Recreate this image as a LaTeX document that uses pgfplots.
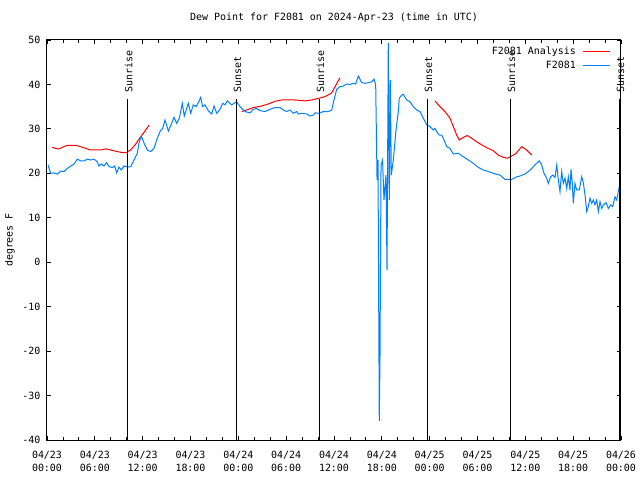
\documentclass[border=0pt]{standalone}
\usepackage{pgfplots}
\pgfplotsset{compat=1.18}
\usepackage{fontspec}
\setmainfont{DejaVu Sans Mono}
\definecolor{dpblue}{RGB}{0,128,255}
\definecolor{dpred}{RGB}{255,0,0}
\begin{document}
\fontsize{10}{13}\selectfont
\begin{tikzpicture}
\begin{axis}[
  scale only axis, width=574bp, height=400bp,
  xmin=0, xmax=72, ymin=-40, ymax=50,
  xtick={0,6,...,72}, minor x tick num=2,
  xticklabels={{04/23\\00:00},{04/23\\06:00},{04/23\\12:00},{04/23\\18:00},{04/24\\00:00},{04/24\\06:00},{04/24\\12:00},{04/24\\18:00},{04/25\\00:00},{04/25\\06:00},{04/25\\12:00},{04/25\\18:00},{04/26\\00:00}},
  ytick={-40,-30,...,50},
  tick align=inside, major tick length=4bp, minor tick length=3bp,
  tick style={black, line width=0.8bp},
  axis line style={line width=1bp},
  /pgf/number format/assume math mode=true,
  ticklabel style={font=\fontsize{10}{13}\selectfont},
  xticklabel style={align=center, yshift=-8bp},
  yticklabel style={xshift=-3bp},
  title={Dew Point for F2081 on 2024-Apr-23 (time in UTC)},
  title style={at={(axis description cs:0.5,1)}, anchor=south, yshift=8bp},
  ylabel={degrees F},
  ylabel style={at={(axis description cs:-0.0645,0.5)}, anchor=center, rotate=0},
  clip=false,
  unbounded coords=jump,
  legend style={at={(axis description cs:1,1)}, anchor=north east, xshift=-7bp, yshift=-3bp, draw=none, fill=none, font=\fontsize{10}{13}\selectfont, row sep=1bp},
  legend cell align=right,
  legend plot pos=right,
  legend image code/.code={\path (0bp,0bp); \draw[#1] (5bp,0bp) -- (32bp,0bp);},
]
\addplot[dpred, line width=1bp] coordinates {
(0.66,25.85) (1.09,25.6) (1.51,25.5) (1.92,25.85) (2.55,26.3) (3.60,26.3) (4.23,26.0) (4.85,25.6) (5.48,25.25) (6.74,25.25) (7.36,25.5) (7.99,25.25) (8.82,24.9) (9.45,24.65) (10.00,24.7) (10.57,25.4) (11.13,26.6) (11.75,28.25) (12.29,29.5) (12.79,30.8)
(18,nan)
(24.42,33.9) (25.05,34.25) (25.88,34.8) (26.93,35.15) (27.76,35.6) (28.60,36.2) (29.44,36.5) (31.11,36.5) (32.36,36.3) (33.20,36.5) (34.12,36.9) (34.87,37.25) (35.71,38.1) (36.25,39.9) (36.75,41.5)
(42,nan)
(48.67,36.3) (49.30,35.0) (49.92,33.9) (50.55,32.4) (50.97,30.5) (51.39,28.6) (51.72,27.5) (52.22,28.1) (52.72,28.5) (53.27,27.9) (53.90,27.1) (54.53,26.4) (55.36,25.6) (55.98,25.1) (56.61,24.1) (57.24,23.6) (57.74,23.4) (58.29,23.9) (58.83,24.5) (59.55,26.0) (60.17,25.25) (60.80,24.1)
};
\addlegendentry{F2081 Analysis}
\addplot[dpblue, line width=1bp] coordinates {
(0.13,21.9) (0.46,20.0) (0.88,20.1) (1.29,19.85) (1.72,20.5) (2.13,20.4) (2.55,21.1) (2.97,21.65) (3.39,22.1) (3.80,23.2) (4.23,22.8) (4.64,22.8) (5.06,23.2) (5.48,23.0) (5.90,23.2) (6.31,22.6) (6.52,21.65) (6.81,22.1) (7.15,21.65) (7.49,22.4) (7.78,21.5) (8.19,21.3) (8.49,21.65) (8.74,20.1) (9.03,21.4) (9.32,20.75) (9.66,21.65) (10.07,21.4) (10.50,21.5) (10.91,23.0) (11.33,24.5) (11.54,26.8) (11.83,28.4) (12.17,26.8) (12.58,25.25) (13.01,24.9) (13.42,25.6) (13.76,27.5) (14.17,29.4) (14.51,30.1) (14.80,32.0) (15.22,29.5) (15.64,31.25) (15.93,32.6) (16.27,31.25) (16.60,32.4) (16.97,35.75) (17.22,32.9) (17.52,34.6) (17.72,35.75) (18.03,33.5) (18.35,35.4) (18.69,35.0) (18.98,35.9) (19.28,37.1) (19.53,35.0) (19.82,35.4) (20.23,34.1) (20.66,33.35) (20.95,35.15) (21.29,33.5) (21.70,34.4) (22.04,35.75) (22.33,35.4) (22.62,36.3) (23.17,35.4) (23.46,35.75) (23.80,36.1) (24.21,35.0) (24.84,33.9) (25.46,33.6) (25.88,34.4) (26.30,34.6) (26.72,34.1) (27.35,33.9) (27.97,34.4) (28.60,34.8) (29.23,34.8) (29.64,34.25) (30.07,33.9) (30.48,34.25) (30.90,33.5) (31.32,33.9) (31.52,33.35) (31.95,33.5) (32.58,33.35) (32.99,32.9) (33.40,33.1) (33.62,33.6) (34.12,33.5) (34.66,33.9) (35.29,33.9) (35.71,34.25) (36.00,36.5) (36.34,38.9) (36.75,39.5) (37.17,39.65) (37.59,40.1) (38.01,40.0) (38.42,40.25) (38.72,40.1) (39.05,41.9) (39.48,40.4) (39.89,40.25) (40.31,40.4) (40.73,40.6) (41.02,41.2) (41.23,39.9) (41.40,18.5) (41.52,23.0) (41.68,-35.7) (41.77,-21.3) (41.90,21.9) (42.09,23.0) (42.27,14.0) (42.52,19.6) (42.65,-1.75) (42.81,49.3) (42.94,14.0) (43.06,41.0) (43.19,19.6) (43.44,23.0) (43.78,29.75) (44.07,33.9) (44.19,36.9) (44.49,37.6) (44.69,37.8) (45.12,36.5) (45.53,36.1) (45.95,35.0) (46.38,34.25) (46.79,33.9) (47.20,32.4) (47.63,30.9) (48.04,30.5) (48.46,29.75) (48.67,30.1) (48.88,29.4) (49.21,28.6) (49.51,28.6) (49.80,27.5) (50.14,26.0) (50.55,25.6) (50.97,24.35) (51.59,24.5) (52.22,23.75) (52.85,23.0) (53.47,22.25) (54.10,21.35) (54.73,20.75) (55.36,20.4) (55.98,20.0) (56.82,19.6) (57.45,18.65) (58.29,18.65) (58.92,19.2) (59.33,19.4) (59.96,19.85) (60.38,20.4) (60.80,21.1) (61.21,21.9) (61.75,22.8) (62.05,21.9) (62.34,20.0) (62.68,18.9) (62.88,17.75) (63.18,19.2) (63.43,19.6) (63.72,19.1) (63.94,21.9) (64.14,18.5) (64.35,15.9) (64.56,20.4) (64.76,17.75) (64.98,18.9) (65.19,16.6) (65.39,19.2) (65.60,16.25) (65.73,20.9) (65.89,17.75) (66.02,13.25) (66.23,17.75) (66.44,16.25) (66.77,16.25) (67.07,19.2) (67.27,17.9) (67.49,15.1) (67.70,11.4) (67.90,12.5) (68.11,14.4) (68.33,13.25) (68.53,14.0) (68.74,12.9) (68.95,14.0) (69.16,11.4) (69.37,13.6) (69.58,12.1) (69.78,12.9) (70.12,13.4) (70.41,12.1) (70.71,12.9) (70.96,12.5) (71.25,14.75) (71.46,14.0) (71.66,15.9) (71.79,17.0)
};
\addlegendentry{F2081}
\addplot[black, line width=1bp, forget plot] coordinates {(10.04,-40) (10.04,36.7)} node[pos=1, rotate=90, anchor=west, inner sep=0pt, yshift=-1.5bp, xshift=6.5bp] {Sunrise};
\addplot[black, line width=1bp, forget plot] coordinates {(23.71,-40) (23.71,36.7)} node[pos=1, rotate=90, anchor=west, inner sep=0pt, yshift=-1.5bp, xshift=6.5bp] {Sunset};
\addplot[black, line width=1bp, forget plot] coordinates {(34.12,-40) (34.12,36.7)} node[pos=1, rotate=90, anchor=west, inner sep=0pt, yshift=-1.5bp, xshift=6.5bp] {Sunrise};
\addplot[black, line width=1bp, forget plot] coordinates {(47.67,-40) (47.67,36.7)} node[pos=1, rotate=90, anchor=west, inner sep=0pt, yshift=-1.5bp, xshift=6.5bp] {Sunset};
\addplot[black, line width=1bp, forget plot] coordinates {(58.08,-40) (58.08,36.7)} node[pos=1, rotate=90, anchor=west, inner sep=0pt, yshift=-1.5bp, xshift=6.5bp] {Sunrise};
\addplot[black, line width=1bp, forget plot] coordinates {(71.75,-40) (71.75,36.7)} node[pos=1, rotate=90, anchor=west, inner sep=0pt, yshift=-1.5bp, xshift=6.5bp] {Sunset};
\end{axis}
\pgfresetboundingbox
\useasboundingbox (-47bp,-40bp) rectangle (593bp,440bp);
\end{tikzpicture}
\end{document}
